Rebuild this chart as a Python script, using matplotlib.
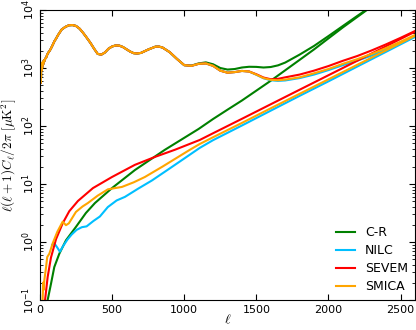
"""Angular power spectra of the four component-separated maps, with their noise spectra.

Upper curves: full spectra; lower straight-ish curves: half-difference noise.
"""
import matplotlib

matplotlib.use("Agg")
import matplotlib.pyplot as plt
import numpy as np

# spectrum, shared part (the four maps are indistinguishable below l ~ 1000)
ell_low = [2, 3, 4, 5, 6, 7, 8, 10, 12, 15, 18, 22, 26, 30, 36, 42, 50, 58, 65, 75,
           88, 100, 111, 125, 150, 175, 200, 225, 250, 275, 300, 325, 350, 375, 400,
           425, 450, 475, 500, 525, 550, 575, 600, 625, 650, 675, 700, 750, 800, 825,
           850, 900, 950, 1000]
dl_low = [1150, 650, 1100, 550, 1000, 700, 1200, 900, 1150, 1000, 1250, 1150, 1350,
          1300, 1450, 1500, 1700, 1850, 1950, 2150, 2500, 2900, 3200, 3700, 4600,
          5100, 5450, 5500, 5300, 4750, 4000, 3300, 2700, 2150, 1750, 1700, 1850, 2150,
          2350, 2450, 2430, 2300, 2100, 1920, 1800, 1780, 1820, 2080, 2330, 2340, 2250,
          1870, 1430, 1120]

# spectrum, per-map high-l part
ell_high = [1050, 1100, 1150, 1200, 1250, 1300, 1350, 1400, 1450, 1500, 1550, 1600,
            1650, 1700, 1800, 1900, 2000, 2100, 2200, 2300, 2400, 2500, 2600]
dl_cr = [1100, 1200, 1250, 1160, 1000, 940, 960, 1020, 1050, 1045, 1020, 1040, 1110,
         1240, 1700, 2400, 3550, 5300, 7900, 11700, 17000, 25000, 37000]
dl_nilc = [1090, 1180, 1200, 1090, 900, 830, 850, 890, 870, 765, 665, 615, 600, 610,
           670, 770, 920, 1120, 1340, 1640, 2100, 2700, 3550]
dl_sevem = [1090, 1180, 1200, 1090, 900, 830, 850, 890, 870, 780, 685, 640, 650, 690,
            770, 900, 1080, 1330, 1610, 2010, 2560, 3310, 4340]
dl_smica = [1090, 1180, 1200, 1090, 900, 830, 850, 890, 870, 770, 670, 625, 615, 630,
            690, 810, 960, 1180, 1420, 1750, 2210, 2840, 3710]

# noise spectra
ell_n_cr = [50, 53, 76, 99, 134, 180, 249, 318, 381, 499, 658, 866, 1100, 1200, 1300,
            1400, 1500, 1600, 1700, 1800, 1900, 2000, 2100, 2200, 2300]
nl_cr = [0.07, 0.1, 0.19, 0.37, 0.63, 1.07, 1.82, 3.16, 4.7, 8.5, 17.4, 38.9, 89, 132,
         191, 275, 407, 603, 912, 1380, 2090, 3240, 5010, 7590, 11500]

ell_n_nilc = [85, 99, 120, 138, 160, 190, 220, 254, 290, 323, 370, 415, 470, 531, 589,
              680, 776, 900, 1000, 1108, 1200, 1400, 1600, 1800, 2000, 2200, 2400, 2600]
nl_nilc = [0.9, 0.95, 0.8, 0.68, 0.85, 1.1, 1.35, 1.62, 1.8, 1.86, 2.3, 2.75, 4.0, 5.2,
           6.0, 8.3, 11.5, 18.6, 27.5, 42, 57, 102, 184, 331, 589, 1060, 1905, 3430]

ell_n_sevem = [30, 35, 53, 76, 111, 157, 203, 263, 367, 499, 658, 800, 935, 1108, 1200,
               1400, 1600, 1800, 2000, 2200, 2400, 2600]
nl_sevem = [0.05, 0.1, 0.25, 0.54, 1.12, 2.1, 3.4, 5.1, 8.5, 13.2, 21.4, 29.5, 38.9,
            57.5, 75, 133, 237, 422, 750, 1334, 2371, 4217]

ell_n_smica = [15, 18, 22, 26, 30, 42, 50, 65, 88, 120, 157, 180, 200, 249, 295, 332,
               400, 471, 520, 568, 650, 727, 850, 1039, 1108, 1200, 1400, 1600, 1800,
               2000, 2200, 2400, 2600]
nl_smica = [0.06, 0.1, 0.2, 0.15, 0.22, 0.37, 0.55, 0.63, 0.95, 1.5, 2.24, 1.95, 2.1,
            3.3, 4.1, 4.7, 6.3, 8.1, 8.5, 8.9, 10.7, 13.2, 20, 38.9, 49, 64, 113, 202,
            359, 638, 1135, 2018, 3589]

maps = [
    ("C-R", "green", dl_cr, ell_n_cr, nl_cr),
    ("NILC", "deepskyblue", dl_nilc, ell_n_nilc, nl_nilc),
    ("SEVEM", "red", dl_sevem, ell_n_sevem, nl_sevem),
    ("SMICA", "orange", dl_smica, ell_n_smica, nl_smica),
]

plt.rcParams["font.family"] = "DejaVu Sans"
plt.rcParams["mathtext.fontset"] = "cm"

fig = plt.figure(figsize=(4.16, 3.30), dpi=100)
ax = fig.add_axes([0.0962, 0.0909, 0.9013, 0.8788])

for name, col, dl_hi, ell_n, nl in maps:
    ell_full = np.array(ell_low + ell_high)
    dl_full = np.array(dl_low + dl_hi)
    ax.plot(ell_full, dl_full, color=col, lw=1.5, label=name)
    ax.plot(ell_n, nl, color=col, lw=1.5)

ax.set_yscale("log")
ax.set_xlim(0, 2600)
ax.set_ylim(0.1, 1e4)
ax.set_xticks([0, 500, 1000, 1500, 2000, 2500])
ax.tick_params(which="both", direction="in", top=True, right=True, labelsize=8)
ax.tick_params(which="major", length=4)
ax.tick_params(which="minor", length=2)
ax.tick_params(axis="x", which="minor", top=False, bottom=False)
ax.tick_params(axis="y", pad=2)
for lab in ax.get_yticklabels():
    lab.set_rotation(90)
    lab.set_va("center")

ax.set_xlabel(r"$\ell$", fontsize=10)
ax.xaxis.set_label_coords(0.5, -0.042)
ax.set_ylabel(r"$\ell(\ell+1)C_\ell/2\pi\ [\mu{\rm K}^2]$", fontsize=9.5)
ax.yaxis.set_label_coords(-0.058, 0.5)

ax.legend(loc="lower right", frameon=False, fontsize=9, handlelength=1.5,
          labelspacing=0.4, borderaxespad=0.15)

fig.savefig("out.png", dpi=100)
